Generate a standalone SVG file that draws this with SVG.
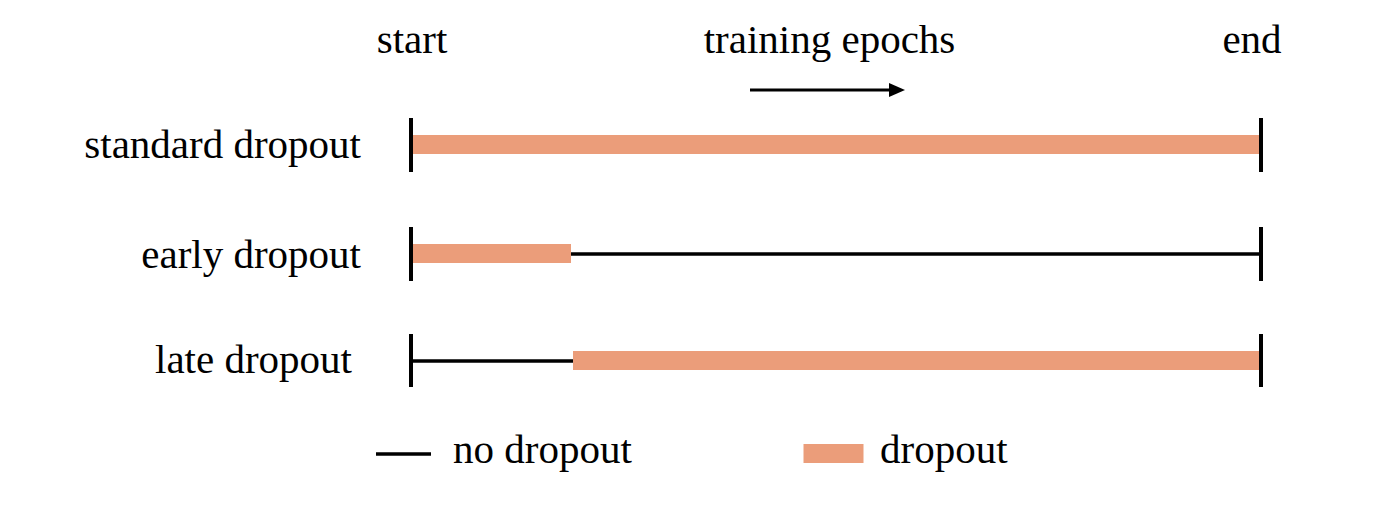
<svg xmlns="http://www.w3.org/2000/svg" width="1378" height="508" viewBox="0 0 1378 508">
<style>
text{font-family:"Liberation Serif","Times New Roman",serif;font-size:41px;fill:#000}
.bar{fill:#EB9D7A}
.tick{stroke:#000;stroke-width:4}
.line{stroke:#000;stroke-width:3.5}
</style>
<rect width="1378" height="508" fill="#fff"/>
<g id="header">
<text x="412" y="53" text-anchor="middle">start</text>
<text x="829.5" y="53" text-anchor="middle">training epochs</text>
<text x="1252" y="53" text-anchor="middle">end</text>
</g>
<g id="connectors">
<line x1="750" y1="90" x2="892" y2="90" stroke="#000" stroke-width="3"/>
<polygon points="889,83 905,90 889,97" fill="#000"/>
</g>
<g id="standard">
<text x="361" y="158" text-anchor="end">standard dropout</text>
<rect class="bar" x="413" y="135" width="846" height="19"/>
<line class="tick" x1="411" y1="118" x2="411" y2="172"/>
<line class="tick" x1="1261" y1="118" x2="1261" y2="172"/>
</g>
<g id="early">
<text x="361" y="268" text-anchor="end">early dropout</text>
<rect class="bar" x="413" y="244" width="158" height="19"/>
<line class="line" x1="571" y1="254" x2="1259" y2="254"/>
<line class="tick" x1="411" y1="227" x2="411" y2="281"/>
<line class="tick" x1="1261" y1="227" x2="1261" y2="281"/>
</g>
<g id="late">
<text x="352" y="373" text-anchor="end">late dropout</text>
<line class="line" x1="413" y1="361" x2="573" y2="361"/>
<rect class="bar" x="573" y="351" width="686" height="19"/>
<line class="tick" x1="411" y1="334" x2="411" y2="387"/>
<line class="tick" x1="1261" y1="334" x2="1261" y2="387"/>
</g>
<g id="legend">
<line class="line" x1="376" y1="454" x2="431" y2="454"/>
<text x="453" y="463">no dropout</text>
<rect class="bar" x="803.5" y="444" width="60" height="19"/>
<text x="880" y="463">dropout</text>
</g>
</svg>
